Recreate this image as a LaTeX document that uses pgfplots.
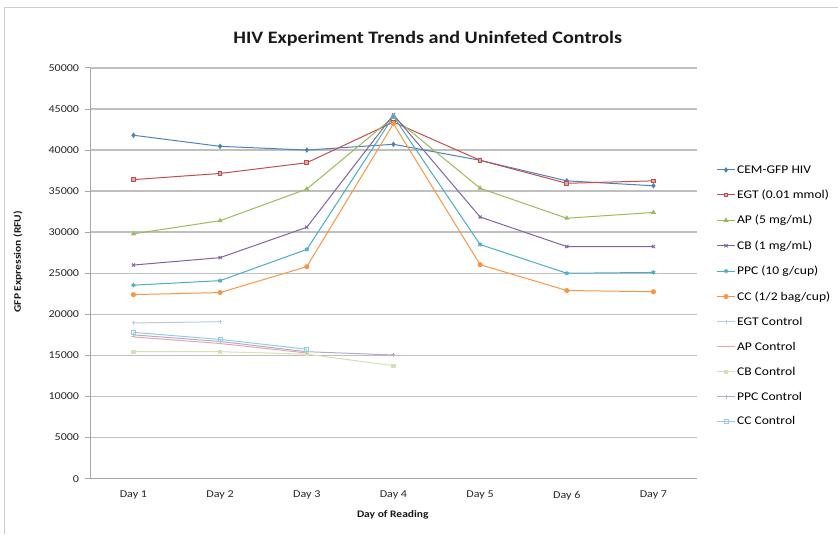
\documentclass[border=0pt]{standalone}
\usepackage{pgfplots}
\pgfplotsset{compat=1.18}
\usepackage{fontspec}
\setmainfont{Carlito}[FakeStretch=1.15]
\usetikzlibrary{plotmarks}

\definecolor{sBlue}{HTML}{4F81BD}
\definecolor{sRed}{HTML}{C0504D}
\definecolor{sGreen}{HTML}{9BBB59}
\definecolor{sPurple}{HTML}{8064A2}
\definecolor{sAqua}{HTML}{4BACC6}
\definecolor{sOrange}{HTML}{F79646}
\definecolor{cBlue}{HTML}{B9C9E6}
\definecolor{cRed}{HTML}{E3A9A8}
\definecolor{cGreen}{HTML}{D3E1B3}
\definecolor{cPurple}{HTML}{B8A8D0}
\definecolor{cAqua}{HTML}{92CEDE}
\definecolor{gridgray}{HTML}{BFBFBF}
\definecolor{axgray}{HTML}{A6A6A6}

\begin{document}
\begin{tikzpicture}[x=1pt,y=1pt]
% page area and chart frame
\path (0,0) rectangle (838,534);
\draw[gridgray!80,line width=1pt] (5,0) -- (5,526) -- (838,526);

\begin{axis}[
  at={(104,67)}, anchor=south west,
  scale only axis, width=607pt, height=411pt,
  xmin=0.5, xmax=7.5, ymin=0, ymax=50000,
  ytick={0,5000,...,50000},
  xtick={1,...,7},
  xticklabels={Day 1,Day 2,Day 3,Day 4,Day 5,Day 6,Day 7},
  extra x ticks={0.5,1.5,...,7.5},
  extra x tick labels={},
  extra x tick style={major tick length=5pt, tick style={axgray, line width=0.8pt}, grid=none},
  x tick style={draw=none},
  major tick length=5pt,
  y tick style={axgray, line width=0.8pt},
  tick align=outside,
  axis x line*=bottom, axis y line*=left,
  axis line style={axgray, line width=0.8pt, -},
  ymajorgrids, grid style={gridgray, line width=1.4pt},
  scaled y ticks=false,
  /pgf/number format/set thousands separator={},
  /pgf/number format/assume math mode=true,
  tick label style={font=\fontsize{10.5}{12}\selectfont, text=black!85},
  yticklabel style={xshift=-2.5pt},
  xticklabel style={yshift=-4pt},
  legend style={at={(1.033,0.768)}, anchor=north west, draw=none,
    font=\fontsize{11.8}{13}\selectfont, row sep=11.3pt,
    legend cell align=left, inner sep=0pt},
  legend image post style={sharp plot},
  every axis plot/.append style={line width=1pt, mark size=2pt},
  clip=false,
]
\addplot[sBlue, mark=diamond*, mark options={fill=sBlue}] coordinates
  {(1,41800) (2,40450) (3,40000) (4,40700) (5,38750) (6,36250) (7,35650)};
\addlegendentry{CEM-GFP HIV}
\addplot[sRed, mark=square*, mark size=1.8pt, mark options={fill=sRed!50}] coordinates
  {(1,36400) (2,37150) (3,38450) (4,43400) (5,38750) (6,35950) (7,36250)};
\addlegendentry{EGT (0.01 mmol)}
\addplot[sGreen, mark=triangle*, mark options={fill=sGreen}] coordinates
  {(1,29800) (2,31400) (3,35250) (4,44000) (5,35350) (6,31700) (7,32400)};
\addlegendentry{AP (5 mg/mL)}
\addplot[sPurple, mark=x, mark size=2.2pt] coordinates
  {(1,26000) (2,26900) (3,30600) (4,44300) (5,31850) (6,28250) (7,28250)};
\addlegendentry{CB (1 mg/mL)}
\addplot[sAqua, mark=asterisk, mark size=2.2pt] coordinates
  {(1,23550) (2,24100) (3,27900) (4,44100) (5,28500) (6,25000) (7,25100)};
\addlegendentry{PPC (10 g/cup)}
\addplot[sOrange, mark=*, mark options={fill=sOrange}] coordinates
  {(1,22400) (2,22650) (3,25800) (4,43200) (5,26050) (6,22900) (7,22750)};
\addlegendentry{CC (1/2 bag/cup)}
\addplot[cBlue, mark=+, mark size=1.8pt] coordinates
  {(1,18950) (2,19100)};
\addlegendentry{EGT Control}
\addplot[cRed, mark=-, mark size=2pt] coordinates
  {(1,17250) (2,16450) (3,15300)};
\addlegendentry{AP Control}
\addplot[cGreen, mark=square*, mark size=1.6pt, mark options={fill=cGreen}] coordinates
  {(1,15450) (2,15450) (3,15150) (4,13750)};
\addlegendentry{CB Control}
\addplot[cPurple, mark=+, mark size=2pt] coordinates
  {(1,17500) (2,16700) (3,15450) (4,15050)};
\addlegendentry{PPC Control}
\addplot[cAqua, mark=square, mark size=2pt] coordinates
  {(1,17800) (2,16950) (3,15750)};
\addlegendentry{CC Control}
\end{axis}

% title and axis titles
\node[font=\fontsize{17.5}{20}\selectfont\bfseries, text=black!90] at (428,495) {HIV Experiment Trends and Uninfeted Controls};
\node[font=\fontsize{10}{12}\selectfont\bfseries, text=black!90] at (393,19) {Day of Reading};
\node[font=\fontsize{10}{12}\selectfont\bfseries, text=black!90, rotate=90] at (18,272) {GFP Expression (RFU)};
\end{tikzpicture}
\end{document}
